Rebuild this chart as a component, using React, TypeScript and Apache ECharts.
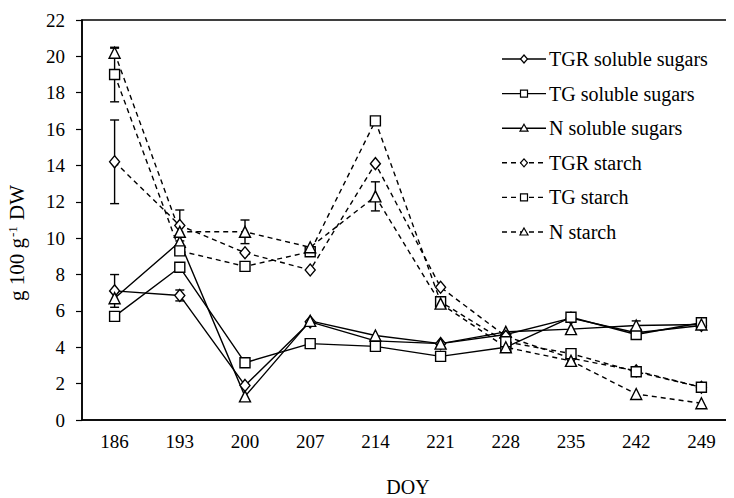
import React, { useEffect, useRef } from "react";
import * as echarts from "echarts";

// Day of year of each sampling date
const doy = ["186", "193", "200", "207", "214", "221", "228", "235", "242", "249"];

// Soluble sugars (g 100 g-1 DW)
const tgrSugar = [7.1, 6.85, 1.9, 5.4, 4.35, 4.2, 4.7, 5.6, 4.8, 5.2];
const tgSugar = [5.7, 8.4, 3.15, 4.2, 4.05, 3.5, 4.0, 5.65, 4.7, 5.35];
const nSugar = [6.7, 9.8, 1.3, 5.45, 4.65, 4.2, 4.85, 5.0, 5.2, 5.25];

// Starch (g 100 g-1 DW)
const tgrStarch = [14.2, 10.7, 9.2, 8.25, 14.1, 7.3, 4.6, 3.4, 2.7, 1.8];
const tgStarch = [19.0, 9.3, 8.45, 9.25, 16.45, 6.5, 4.3, 3.65, 2.65, 1.8];
const nStarch = [20.2, 10.35, 10.35, 9.5, 12.3, 6.4, 4.0, 3.25, 1.43, 0.92];

// Standard errors (0 = no bar drawn)
const tgrSugarErr = [0.9, 0.3, 0, 0, 0, 0, 0, 0, 0, 0];
const tgSugarErr = [0, 0, 0, 0, 0, 0, 0, 0, 0, 0];
const nSugarErr = [0, 0, 0, 0, 0, 0, 0, 0, 0.25, 0];
const tgrStarchErr = [2.3, 0.85, 0, 0, 0, 0, 0, 0, 0, 0];
const tgStarchErr = [1.5, 0, 0, 0, 0.2, 0, 0, 0, 0, 0];
const nStarchErr = [0.25, 0, 0.65, 0, 0.8, 0, 0, 0, 0, 0];

const FONT = "Liberation Serif";
const DASH = [5, 4];

type Spec = {
  name: string;
  values: number[];
  errors: number[];
  symbol: "diamond" | "rect" | "triangle";
  symbolSize: number | number[];
  dashed: boolean;
};

const specs: Spec[] = [
  { name: "TGR soluble sugars", values: tgrSugar, errors: tgrSugarErr, symbol: "diamond", symbolSize: [10, 12], dashed: false },
  { name: "TG soluble sugars", values: tgSugar, errors: tgSugarErr, symbol: "rect", symbolSize: 10, dashed: false },
  { name: "N soluble sugars", values: nSugar, errors: nSugarErr, symbol: "triangle", symbolSize: 11, dashed: false },
  { name: "TGR starch", values: tgrStarch, errors: tgrStarchErr, symbol: "diamond", symbolSize: [10, 12], dashed: true },
  { name: "TG starch", values: tgStarch, errors: tgStarchErr, symbol: "rect", symbolSize: 10, dashed: true },
  { name: "N starch", values: nStarch, errors: nStarchErr, symbol: "triangle", symbolSize: 11, dashed: true },
];

// small marker used in the key, centred on (cx, cy)
function keyMarker(kind: Spec["symbol"], cx: number, cy: number) {
  const style = { fill: "#fff", stroke: "#000", lineWidth: 1.2 };
  if (kind === "rect") {
    return { type: "rect", shape: { x: cx - 3.5, y: cy - 3.5, width: 7, height: 7 }, style };
  }
  if (kind === "diamond") {
    return {
      type: "polygon",
      shape: { points: [[cx, cy - 4], [cx + 3.5, cy], [cx, cy + 4], [cx - 3.5, cy]] },
      style,
    };
  }
  return {
    type: "polygon",
    shape: { points: [[cx, cy - 4], [cx + 4, cy + 3], [cx - 4, cy + 3]] },
    style,
  };
}

export default function App() {
  const ref = useRef<HTMLDivElement>(null);

  useEffect(() => {
    if (!ref.current) return;
    const chart = echarts.init(ref.current, null, { renderer: "svg" });

    // error bar segments [categoryIndex, low, high]
    const errData: number[][] = [];
    specs.forEach((s) => {
      s.errors.forEach((e, i) => {
        if (e > 0) errData.push([i, s.values[i] - e, s.values[i] + e]);
      });
    });

    const lineSeries = specs.map((s) => ({
      type: "line",
      name: s.name,
      data: s.values,
      symbol: s.symbol,
      symbolSize: s.symbolSize,
      showAllSymbol: true,
      z: 3,
      lineStyle: { color: "#000", width: 1.4, type: s.dashed ? DASH : "solid" },
      itemStyle: { color: "#fff", borderColor: "#000", borderWidth: 1.4 },
      emphasis: { disabled: true },
    }));

    // key: one row per series
    const keyLeft = 502;
    const keyTop = 59;
    const keyStep = 34.6;
    const keyLen = 44;
    const key: any[] = [];
    specs.forEach((s, i) => {
      const y = keyTop + i * keyStep;
      key.push({
        type: "line",
        shape: { x1: keyLeft, y1: y, x2: keyLeft + keyLen, y2: y },
        style: { stroke: "#000", lineWidth: 1.4, lineDash: s.dashed ? DASH : null },
      });
      key.push(keyMarker(s.symbol, keyLeft + keyLen / 2, y));
      key.push({
        type: "text",
        x: keyLeft + keyLen + 3,
        y,
        style: {
          text: s.name,
          fontFamily: FONT,
          fontSize: 20,
          fill: "#000",
          align: "left",
          verticalAlign: "middle",
        },
      });
    });

    chart.setOption({
      animation: false,
      textStyle: { fontFamily: FONT, color: "#000" },
      grid: {
        left: 82,
        top: 20,
        width: 660,
        bottom: 78,
        show: true,
        borderColor: "#000",
        borderWidth: 1.5,
        backgroundColor: "transparent",
      },
      xAxis: {
        type: "category",
        data: doy,
        boundaryGap: true,
        axisLine: { lineStyle: { color: "#000", width: 1.5 } },
        axisTick: { alignWithLabel: true, length: 6, lineStyle: { color: "#000", width: 1.2 } },
        axisLabel: { fontFamily: FONT, fontSize: 19, color: "#000", margin: 12 },
        splitLine: { show: false },
      },
      yAxis: {
        type: "value",
        min: 0,
        max: 22,
        interval: 2,
        axisLine: { show: true, lineStyle: { color: "#000", width: 1.5 } },
        axisTick: { show: true, length: 6, lineStyle: { color: "#000", width: 1.2 } },
        axisLabel: { fontFamily: FONT, fontSize: 19, color: "#000", margin: 17 },
        splitLine: { show: false },
      },
      graphic: [
        ...key,
        {
          type: "text",
          x: 17,
          y: 243,
          rotation: Math.PI / 2,
          style: {
            text: "{a|g 100 g}{s|-1}{a| DW}",
            align: "center",
            verticalAlign: "middle",
            rich: {
              a: { fontFamily: FONT, fontSize: 21, fill: "#000", lineHeight: 22 },
              s: { fontFamily: FONT, fontSize: 13, fill: "#000", verticalAlign: "top", lineHeight: 22, padding: [0, 1, 8, 1] },
            },
          },
        },
        {
          type: "text",
          x: 408,
          y: 487,
          style: {
            text: "DOY",
            fontFamily: FONT,
            fontSize: 20,
            fill: "#000",
            align: "center",
            verticalAlign: "middle",
          },
        },
      ],
      series: [
        {
          type: "custom",
          name: "errors",
          z: 2,
          silent: true,
          data: errData,
          renderItem: (params: any, api: any) => {
            const lo = api.coord([api.value(0), api.value(1)]);
            const hi = api.coord([api.value(0), api.value(2)]);
            const hw = 4.5;
            const style = { stroke: "#000", lineWidth: 1.4 };
            return {
              type: "group",
              children: [
                { type: "line", shape: { x1: lo[0], y1: lo[1], x2: hi[0], y2: hi[1] }, style },
                { type: "line", shape: { x1: lo[0] - hw, y1: lo[1], x2: lo[0] + hw, y2: lo[1] }, style },
                { type: "line", shape: { x1: hi[0] - hw, y1: hi[1], x2: hi[0] + hw, y2: hi[1] }, style },
              ],
            };
          },
        },
        ...lineSeries,
      ],
    });

    return () => chart.dispose();
  }, []);

  return <div ref={ref} style={{ width: 734, height: 498, margin: "-8px 0 0 -8px" }} />;
}
